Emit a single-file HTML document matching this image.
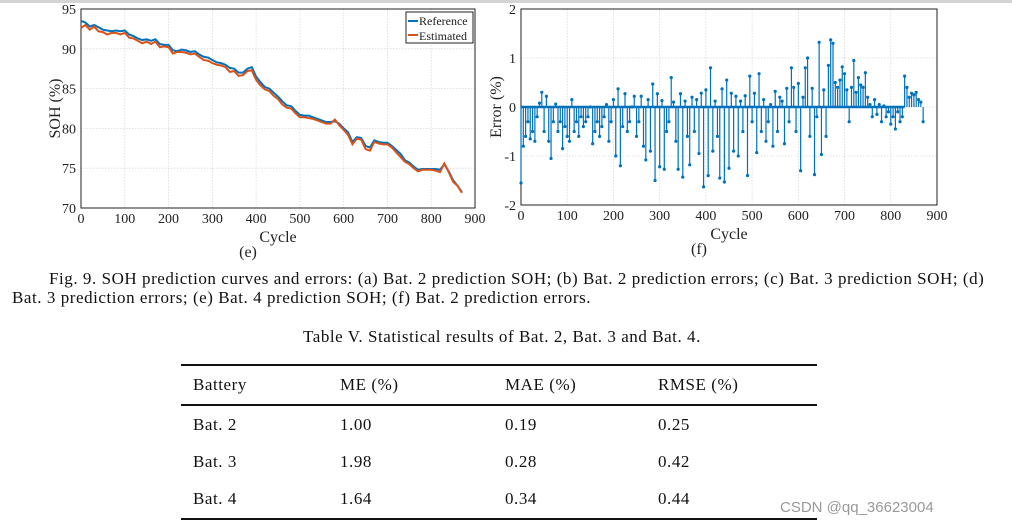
<!DOCTYPE html>
<html><head><meta charset="utf-8"><style>
body{margin:0;width:1012px;height:529px;background:#fff;overflow:hidden;font-family:"Liberation Serif",serif;position:relative}
.t{position:absolute;white-space:nowrap;color:#111;font-size:17px;letter-spacing:0.55px;line-height:20px}
svg text{font-family:"Liberation Serif",serif}
</style></head><body>
<div style="position:absolute;left:0;top:0;width:1012px;height:3px;background:#d4d4d4"></div>
<svg id="chart" width="1012" height="270" style="position:absolute;left:0;top:0"></svg>
<div class="t" style="left:49px;top:269px">Fig. 9. SOH prediction curves and errors: (a) Bat. 2 prediction SOH; (b) Bat. 2 prediction errors; (c) Bat. 3 prediction SOH; (d)</div>
<div class="t" style="left:12px;top:288px">Bat. 3 prediction errors; (e) Bat. 4 prediction SOH; (f) Bat. 2 prediction errors.</div>
<div class="t" style="left:303px;top:327px">Table V. Statistical results of Bat. 2, Bat. 3 and Bat. 4.</div>
<div style="position:absolute;left:181px;top:364px;width:636px;height:2px;background:#111"></div>
<div style="position:absolute;left:181px;top:404px;width:636px;height:2px;background:#111"></div>
<div style="position:absolute;left:181px;top:518px;width:636px;height:2px;background:#111"></div>
<div id="tbl"></div>
<div class="t" style="left:780px;top:498px;font-size:15px;letter-spacing:0;color:#999;font-family:'Liberation Sans',sans-serif">CSDN @qq_36623004</div>
<script>
const cycles10=[0,10,20,30,40,50,60,70,80,90,100,110,120,130,140,150,160,170,180,190,200,210,220,230,240,250,260,270,280,290,300,310,320,330,340,350,360,370,380,390,400,410,420,430,440,450,460,470,480,490,500,510,520,530,540,550,560,570,580,590,600,610,620,630,640,650,660,670,680,690,700,710,720,730,740,750,760,770,780,790,800,810,820,830,840,850,860,870];
const socRef=[93.5,93.3,92.8,93,92.7,92.4,92.3,92.2,92.3,92.2,92.3,91.8,91.6,91.3,91.1,91.2,91,91.2,90.6,90.5,90.5,89.8,89.7,89.9,89.8,89.6,89.7,89.3,89,88.9,88.6,88.3,88.2,88,87.6,87.5,87,87,87.5,87.7,86.5,85.8,85.2,85,84.5,84,83.4,82.9,82.8,82.2,81.7,81.6,81.6,81.4,81.2,81,80.8,80.8,80.9,80.6,80,79.5,78.3,78.9,78.8,77.8,77.6,78.5,78.3,78.2,78.2,77.8,77.3,76.8,76,75.7,75.2,74.8,74.9,74.9,74.9,74.9,74.8,75.5,74.6,73.5,72.8,72];
const socEst=[92.6,93,92.4,92.8,92.2,92.1,91.8,92,92,91.8,92,91.4,91.3,91,90.7,90.9,90.6,90.9,90.2,90.3,90.2,89.4,89.6,89.6,89.5,89.3,89.4,89,88.6,88.5,88.2,88,87.9,87.7,87.1,87.2,86.6,86.7,87.2,87.3,86.1,85.4,84.9,84.7,84.1,83.7,83,82.6,82.5,81.9,81.4,81.4,81.3,81.2,81,80.8,80.6,80.6,81.1,80.4,79.8,79.2,78,78.7,78.6,77.4,77.2,78.3,78.1,78,78,77.6,77,76.4,75.8,75.5,75,74.6,74.8,74.8,74.8,74.7,74.5,75.6,74.5,73.3,72.8,71.9];
const errCycleStep=5;
const errVals=[-1.55,-0.8,-0.6,-0.3,-0.65,-0.5,-0.7,-0.2,0.08,0.3,
-0.5,0.22,-0.7,-1.05,-0.3,0.06,-0.5,-0.3,-0.85,-0.4,
-0.6,-0.7,0.15,-0.5,-0.3,-0.6,-0.2,-0.4,-0.3,-0.2,
0.0,-0.75,-0.5,-0.3,-0.6,-0.4,-0.2,0.05,-0.7,-0.3,
0.15,-1.0,0.37,-1.2,-0.4,0.27,-0.5,-0.3,0.0,0.22,
-0.6,-0.3,0.22,-0.8,-1.08,0.15,-0.9,0.47,-1.5,0.27,
-1.22,0.13,-1.27,-0.5,-0.3,0.6,0.1,-0.7,-1.27,0.27,
-1.43,0.12,-0.6,-1.18,0.2,-0.5,0.15,-0.95,0.28,-1.63,
0.35,-1.4,0.8,-0.9,0.12,-0.6,-1.45,0.37,-1.53,0.55,
-1.25,0.28,-0.9,0.22,-1.0,0.12,-0.5,0.23,-1.4,0.63,
-0.3,0.28,-0.93,0.68,-0.5,0.15,-0.7,-0.3,0.05,-0.8,
0.32,-0.5,0.2,0.12,-0.75,0.38,-0.3,0.8,0.4,-0.5,
0.48,-1.3,0.2,0.8,1.0,-0.6,0.38,-1.38,-0.2,1.32,
-0.97,0.35,-0.6,0.85,1.37,1.3,0.5,0.4,0.55,0.82,
0.68,0.35,-0.3,0.4,0.95,0.3,0.6,0.45,0.4,0.7,
0.2,0.05,-0.2,0.15,-0.15,0.05,-0.3,0.02,-0.2,-0.1,
-0.35,-0.2,-0.45,-0.1,-0.3,-0.2,0.63,0.4,0.2,0.28,
0.25,0.3,0.15,0.1,-0.3];
const xTicks=[0,100,200,300,400,500,600,700,800,900];
const sohTicks=[70,75,80,85,90,95];
const errTicks=[-2,-1,0,1,2];
const tableHeader=["Battery","ME (%)","MAE (%)","RMSE (%)"];
const tableRows=[["Bat. 2","1.00","0.19","0.25"],["Bat. 3","1.98","0.28","0.42"],["Bat. 4","1.64","0.34","0.44"]];

const NS="http://www.w3.org/2000/svg";
const svg=document.getElementById('chart');
function mk(tag,attrs,parent){const e=document.createElementNS(NS,tag);for(const k in attrs)e.setAttribute(k,attrs[k]);(parent||svg).appendChild(e);return e;}
function axes(L,R,T,B,xmin,xmax,ymin,ymax,yt,ytitle,sub,nm,ytOff){
  const g=mk('g',{});
  
  
  const X=v=>L+(v-xmin)/(xmax-xmin)*(R-L), Y=v=>B-(v-ymin)/(ymax-ymin)*(B-T);
  xTicks.forEach(v=>{const x=X(v);
    const gl=mk('line',{x1:x,x2:x,y1:T,y2:B,stroke:'#d8d8d8','stroke-width':0.8,'stroke-dasharray':'1.5,1.5'},g);
    
    const t=mk('text',{x:x,y:B+15,'font-size':14,'text-anchor':'middle',fill:'#222'},g);t.textContent=v;
    });
  yt.forEach(v=>{const y=Y(v);
    const gl=mk('line',{x1:L,x2:R,y1:y,y2:y,stroke:'#d8d8d8','stroke-width':0.8,'stroke-dasharray':'1.5,1.5'},g);
    
    const t=mk('text',{x:L-5,y:y+5,'font-size':14,'text-anchor':'end',fill:'#222'},g);t.textContent=v;
    });
  const fr=mk('rect',{x:L,y:T,width:R-L,height:B-T,fill:'none',stroke:'#222','stroke-width':1},g);
  
  const xt=mk('text',{x:(L+R)/2,y:B+34,'font-size':16,'text-anchor':'middle',fill:'#222'},g);xt.textContent='Cycle';
  
  const yl=mk('text',{x:0,y:0,'font-size':16,'text-anchor':'middle',fill:'#222',transform:`translate(${L-ytOff},${(T+B)/2}) rotate(-90)`},g);yl.textContent=ytitle;
  
  const st=mk('text',{x:(L+R)/2-30,y:B+49,'font-size':16,'text-anchor':'middle',fill:'#222'},g);st.textContent=sub;
  
  return {X,Y};
}
const a=axes(81,475,9,208,0,900,70,95,sohTicks,'SOH (%)','(e)','soh-chart',21);
const pr=mk('polyline',{points:cycles10.map((c,i)=>a.X(c)+','+a.Y(socRef[i])).join(' '),fill:'none',stroke:'#0072bd','stroke-width':2});

const pe=mk('polyline',{points:cycles10.map((c,i)=>a.X(c)+','+a.Y(socEst[i])).join(' '),fill:'none',stroke:'#d95319','stroke-width':2});

const lg=mk('g',{});

mk('rect',{x:406,y:12,width:67,height:31,fill:'#fff',stroke:'#222','stroke-width':1},lg);
mk('line',{x1:408,x2:418,y1:21,y2:21,stroke:'#0072bd','stroke-width':2},lg);
mk('line',{x1:408,x2:418,y1:35,y2:35,stroke:'#d95319','stroke-width':2},lg);
const l1=mk('text',{x:419,y:25,'font-size':12,fill:'#222'},lg);l1.textContent='Reference';

const l2=mk('text',{x:419,y:40,'font-size':12,fill:'#222'},lg);l2.textContent='Estimated';

const b=axes(521,937,9,205,0,900,-2,2,errTicks,'Error (%)','(f)','error-chart',20);
const bl=mk('line',{x1:b.X(0),x2:b.X(830),y1:b.Y(0),y2:b.Y(0),stroke:'#0072bd','stroke-width':2.5});

errVals.forEach((v,i)=>{const x=b.X(i*errCycleStep);
  const s=mk('line',{x1:x,x2:x,y1:b.Y(0),y2:b.Y(v),stroke:'#0072bd','stroke-width':1.2});
  
  const c=mk('circle',{cx:x,cy:b.Y(v),r:1.6,fill:'#0072bd'});
  });
const tbl=document.getElementById('tbl');
const colX=[193,340,505,658], rowY=[375,415,452,489];
[tableHeader,...tableRows].forEach((row,r)=>row.forEach((txt,c)=>{
  const d=document.createElement('div');d.className='t';
  d.style.left=colX[c]+'px';d.style.top=rowY[r]+'px';d.textContent=txt;
  
  
  tbl.appendChild(d);}));
</script>
</body></html>
